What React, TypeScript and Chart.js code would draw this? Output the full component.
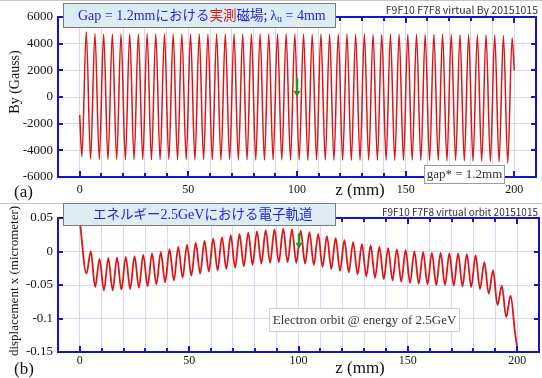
import React, { useEffect, useRef } from "react";
import { Chart, registerables } from "chart.js";

Chart.register(...registerables);

const SERIF = '"Liberation Serif", "Times New Roman", serif';
const GOTHIC = '"Noto Sans CJK JP", "Noto Sans", sans-serif';
const AXIS_BLUE = "#1414c8";
const GRID = "#d6d6f0";
const RED = "#dc1616";
const TITLE_BLUE = "#2424dc";
const ARROW_GREEN = "#1f9a1f";

// ---------- shared axis ----------
const Z_MIN = -10;
const Z_MAX = 210;
const Z_STEP = 10;
const Z_LABEL_STEP = 50;
const PERIOD = 4; // undulator period (mm)

// ---------- panel (a): By (Gauss) ----------
const BY_MIN = -6000;
const BY_MAX = 6000;
const BY_STEP = 2000;
const BY_START = { z: 0, v: -1350 };
const BY_END = { z: 200, v: 2000 };
const BY_TROUGH_Z0 = 1;
const BY_PEAK_Z0 = 3;
const byTroughs = [
  -4480, -4650, -4690, -4700, -4690, -4710, -4700, -4690, -4710, -4700,
  -4690, -4710, -4700, -4720, -4700, -4710, -4720, -4700, -4720, -4710,
  -4720, -4730, -4710, -4720, -4730, -4720, -4740, -4730, -4720, -4740,
  -4730, -4750, -4740, -4730, -4750, -4740, -4760, -4750, -4740, -4760,
  -4770, -4760, -4780, -4770, -4790, -4800, -4810, -4830, -4860, -4950,
];
const byPeaks = [
  4900, 4750, 4720, 4730, 4720, 4740, 4720, 4730, 4720, 4740,
  4720, 4730, 4720, 4740, 4710, 4730, 4720, 4730, 4710, 4730,
  4720, 4710, 4720, 4730, 4710, 4720, 4700, 4720, 4710, 4700,
  4710, 4700, 4720, 4700, 4690, 4710, 4700, 4690, 4700, 4680,
  4690, 4700, 4680, 4670, 4680, 4660, 4650, 4630, 4600, 4450,
];

// ---------- panel (b): orbit displacement ----------
const X_MIN = -0.15;
const X_MAX = 0.05;
const X_STEP = 0.05;
const ORBIT_START = { z: 0, v: 0.045 };
const ORBIT_TROUGH_Z0 = 3;
const ORBIT_PEAK_Z0 = 5;
const orbitTroughs = [
  -0.033, -0.053, -0.058, -0.058, -0.057, -0.056, -0.054, -0.052, -0.049, -0.046,
  -0.043, -0.039, -0.036, -0.033, -0.03, -0.028, -0.026, -0.024, -0.022, -0.02,
  -0.018, -0.017, -0.016, -0.016, -0.017, -0.018, -0.02, -0.023, -0.026, -0.029,
  -0.031, -0.034, -0.037, -0.039, -0.041, -0.043, -0.045, -0.047, -0.048, -0.049,
  -0.05, -0.05, -0.051, -0.052, -0.053, -0.056, -0.063, -0.08, -0.098,
];
const orbitPeaks = [
  0.0, -0.011, -0.01, -0.009, -0.008, -0.007, -0.005, -0.003, -0.001, 0.003,
  0.007, 0.01, 0.013, 0.016, 0.019, 0.021, 0.024, 0.026, 0.028, 0.03,
  0.032, 0.033, 0.034, 0.033, 0.031, 0.029, 0.026, 0.023, 0.02, 0.017,
  0.014, 0.011, 0.009, 0.007, 0.005, 0.003, 0.002, 0.0, -0.001, -0.002,
  -0.002, -0.003, -0.003, -0.004, -0.006, -0.016, -0.028, -0.051, -0.066,
];
const orbitTailZ = [199, 200];
const orbitTailV = [-0.12, -0.143];

function buildBy() {
  const pts = [{ x: BY_START.z, y: BY_START.v }];
  for (let k = 0; k < byPeaks.length; k++) {
    pts.push({ x: BY_TROUGH_Z0 + k * PERIOD, y: byTroughs[k] });
    pts.push({ x: BY_PEAK_Z0 + k * PERIOD, y: byPeaks[k] });
  }
  pts.push({ x: BY_END.z, y: BY_END.v });
  return pts;
}

function buildOrbit() {
  const pts = [{ x: ORBIT_START.z, y: ORBIT_START.v }];
  for (let k = 0; k < orbitPeaks.length; k++) {
    pts.push({ x: ORBIT_TROUGH_Z0 + k * PERIOD, y: orbitTroughs[k] });
    pts.push({ x: ORBIT_PEAK_Z0 + k * PERIOD, y: orbitPeaks[k] });
  }
  for (let i = 0; i < orbitTailZ.length; i++) pts.push({ x: orbitTailZ[i], y: orbitTailV[i] });
  return pts;
}

type Seg = { t: string; font: string; color: string; dy?: number };

function drawSegs(ctx: CanvasRenderingContext2D, x: number, baseline: number, segs: Seg[]) {
  ctx.textBaseline = "alphabetic";
  ctx.textAlign = "left";
  let cx = x;
  for (const s of segs) {
    ctx.font = s.font;
    ctx.fillStyle = s.color;
    ctx.fillText(s.t, cx, baseline + (s.dy || 0));
    cx += ctx.measureText(s.t).width;
  }
  return cx;
}

interface Decor {
  box: { x: number; y: number; w: number; h: number };
  titleX: number;
  titleBaseline: number;
  titleSegs: Seg[];
  tag: string;
  tagY: number;
  panelLabel: string;
  panelLabelY: number;
  zLabelY: number;
  yTitle: string;
  yTitleY: number;
  yTitleSize: number;
  note: { text: string; x: number; y: number; w: number; h: number; border: string; size: number };
  arrow: { z: number; from: number; to: number };
}

function decorPlugin(d: Decor) {
  return {
    id: "decor",
    afterDraw(chart: any) {
      const { ctx, chartArea: a, scales } = chart;
      const xs = scales.x;
      const ys = scales.y;
      ctx.save();
      // separator
      ctx.strokeStyle = "#c4c4c4";
      ctx.lineWidth = 1;
      ctx.beginPath();
      ctx.moveTo(0, 0.5);
      ctx.lineTo(chart.width, 0.5);
      ctx.stroke();

      // frame
      ctx.strokeStyle = AXIS_BLUE;
      ctx.lineWidth = 2;
      ctx.strokeRect(a.left, a.top, a.right - a.left, a.bottom - a.top);
      // inward ticks
      const seg = (x1: number, y1: number, x2: number, y2: number) => {
        ctx.beginPath();
        ctx.moveTo(x1, y1);
        ctx.lineTo(x2, y2);
        ctx.stroke();
      };
      for (let z = 0; z <= 200; z += Z_STEP) {
        const px = Math.round(xs.getPixelForValue(z));
        const len = z % Z_LABEL_STEP === 0 ? 6 : 4;
        seg(px, a.bottom, px, a.bottom - len);
        seg(px, a.top, px, a.top + len);
      }
      ys.ticks.forEach((t: any) => {
        const py = Math.round(ys.getPixelForValue(t.value));
        seg(a.left, py, a.left + 5, py);
        seg(a.right, py, a.right - 5, py);
      });

      // green arrow
      const ax = Math.round(xs.getPixelForValue(d.arrow.z));
      const ay1 = ys.getPixelForValue(d.arrow.from);
      const ay2 = ys.getPixelForValue(d.arrow.to);
      ctx.strokeStyle = ARROW_GREEN;
      ctx.fillStyle = ARROW_GREEN;
      ctx.lineWidth = 2.5;
      seg(ax, ay1, ax, ay2 - 5);
      ctx.beginPath();
      ctx.moveTo(ax - 3.5, ay2 - 6);
      ctx.lineTo(ax + 3.5, ay2 - 6);
      ctx.lineTo(ax, ay2);
      ctx.closePath();
      ctx.fill();

      // title box
      ctx.fillStyle = "#dbedf3";
      ctx.fillRect(d.box.x, d.box.y, d.box.w, d.box.h);
      ctx.strokeStyle = "#7a7a7a";
      ctx.lineWidth = 1;
      ctx.strokeRect(d.box.x + 0.5, d.box.y + 0.5, d.box.w, d.box.h);
      drawSegs(ctx, d.titleX, d.titleBaseline, d.titleSegs);

      // top-right tag
      ctx.font = `10.5px ${GOTHIC}`;
      ctx.fillStyle = "#333333";
      ctx.textAlign = "right";
      ctx.textBaseline = "middle";
      ctx.fillText(d.tag, 538, d.tagY, 156);

      // note box
      const n = d.note;
      ctx.fillStyle = "#ffffff";
      ctx.fillRect(n.x, n.y, n.w, n.h);
      ctx.strokeStyle = n.border;
      ctx.strokeRect(n.x + 0.5, n.y + 0.5, n.w, n.h);
      ctx.font = `${n.size}px ${SERIF}`;
      ctx.fillStyle = "#333333";
      ctx.textAlign = "center";
      ctx.textBaseline = "middle";
      ctx.fillText(n.text, n.x + n.w / 2 + 0.5, n.y + n.h / 2 + 1);

      // axis titles
      ctx.fillStyle = "#111111";
      ctx.font = `17px ${SERIF}`;
      ctx.textAlign = "center";
      ctx.textBaseline = "middle";
      ctx.fillText("z (mm)", 360, d.zLabelY);
      ctx.textAlign = "left";
      ctx.fillText(d.panelLabel, 14, d.panelLabelY);

      ctx.save();
      ctx.translate(15, d.yTitleY);
      ctx.rotate(-Math.PI / 2);
      ctx.font = `${d.yTitleSize}px ${SERIF}`;
      ctx.textAlign = "center";
      ctx.textBaseline = "middle";
      ctx.fillText(d.yTitle, 0, 0);
      ctx.restore();

      ctx.restore();
    },
  };
}

function makeConfig(opts: {
  data: { x: number; y: number }[];
  top: number;
  xAxisH: number;
  xPad: number;
  yMin: number;
  yMax: number;
  yStep: number;
  lineWidth: number;
  decor: Decor;
}) {
  return {
    type: "line",
    data: {
      datasets: [
        {
          data: opts.data,
          borderColor: RED,
          borderWidth: opts.lineWidth,
          pointRadius: 0,
          fill: false,
          cubicInterpolationMode: "monotone",
        },
      ],
    },
    options: {
      responsive: false,
      maintainAspectRatio: false,
      animation: false,
      events: [],
      parsing: false,
      layout: { padding: { top: opts.top, right: 3, left: 0, bottom: 0 } },
      plugins: { legend: { display: false }, tooltip: { enabled: false }, title: { display: false } },
      scales: {
        x: {
          type: "linear",
          min: Z_MIN,
          max: Z_MAX,
          afterFit: (s: any) => {
            s.height = opts.xAxisH;
          },
          ticks: {
            stepSize: Z_STEP,
            autoSkip: false,
            maxRotation: 0,
            padding: opts.xPad,
            color: "#111",
            font: { family: SERIF, size: 12 },
            callback: (v: number) => (v % Z_LABEL_STEP === 0 ? String(v) : ""),
          },
          grid: { color: GRID, lineWidth: 1, drawTicks: false },
          border: { display: false },
        },
        y: {
          type: "linear",
          min: opts.yMin,
          max: opts.yMax,
          afterFit: (s: any) => {
            s.width = 58;
          },
          ticks: {
            stepSize: opts.yStep,
            padding: 5,
            color: "#111",
            font: { family: SERIF, size: 13 },
            callback: (v: number) => String(parseFloat(Number(v).toFixed(3)) + 0),
          },
          grid: { color: GRID, lineWidth: 1, drawTicks: false },
          border: { display: false },
        },
      },
    },
    plugins: [decorPlugin(opts.decor)],
  };
}

const decorA: Decor = {
  box: { x: 63, y: 3, w: 272, h: 24 },
  titleX: 78,
  titleBaseline: 20,
  titleSegs: [
    { t: "Gap = 1.2mm", font: `14px ${SERIF}`, color: TITLE_BLUE },
    { t: "における", font: `13.5px ${GOTHIC}`, color: TITLE_BLUE },
    { t: "実測", font: `13.5px ${GOTHIC}`, color: RED },
    { t: "磁場; ", font: `13.5px ${GOTHIC}`, color: TITLE_BLUE },
    { t: "λ", font: `14px ${SERIF}`, color: TITLE_BLUE },
    { t: "u", font: `10px ${SERIF}`, color: TITLE_BLUE, dy: 2 },
    { t: " = 4mm", font: `14px ${SERIF}`, color: TITLE_BLUE },
  ],
  tag: "F9F10 F7F8 virtual By 20151015",
  tagY: 10,
  panelLabel: "(a)",
  panelLabelY: 193,
  zLabelY: 191,
  yTitle: "By (Gauss)",
  yTitleY: 82,
  yTitleSize: 14,
  note: { text: "gap* = 1.2mm", x: 424, y: 165, w: 80, h: 18, border: "#9a9a9a", size: 13 },
  arrow: { z: 100, from: 1400, to: 0 },
};

const decorB: Decor = {
  box: { x: 63, y: 0, w: 272, h: 22 },
  titleX: 93,
  titleBaseline: 16,
  titleSegs: [
    { t: "エネルギー", font: `13.5px ${GOTHIC}`, color: TITLE_BLUE },
    { t: "2.5GeV", font: `14px ${SERIF}`, color: TITLE_BLUE },
    { t: "における電子軌道", font: `13.5px ${GOTHIC}`, color: TITLE_BLUE },
  ],
  tag: "F9F10 F7F8 virtual orbit 20151015",
  tagY: 9,
  panelLabel: "(b)",
  panelLabelY: 167,
  zLabelY: 166,
  yTitle: "displacement x (micrometer)",
  yTitleY: 78,
  yTitleSize: 13,
  note: { text: "Electron orbit @ energy of 2.5GeV", x: 269, y: 105, w: 190, h: 23, border: "#cfcfcf", size: 13 },
  arrow: { z: 100, from: 0.027, to: 0.004 },
};

export default function App() {
  const refA = useRef<HTMLCanvasElement | null>(null);
  const refB = useRef<HTMLCanvasElement | null>(null);

  useEffect(() => {
    document.body.style.margin = "0";
    const a = new Chart(
      refA.current as HTMLCanvasElement,
      makeConfig({
        data: buildBy(),
        top: 17,
        xAxisH: 26,
        xPad: 6,
        yMin: BY_MIN,
        yMax: BY_MAX,
        yStep: BY_STEP,
        lineWidth: 1.5,
        decor: decorA,
      }) as any
    );
    const b = new Chart(
      refB.current as HTMLCanvasElement,
      makeConfig({
        data: buildOrbit(),
        top: 15,
        xAxisH: 26,
        xPad: 2,
        yMin: X_MIN,
        yMax: X_MAX,
        yStep: X_STEP,
        lineWidth: 1.8,
        decor: decorB,
      }) as any
    );
    return () => {
      a.destroy();
      b.destroy();
    };
  }, []);

  return (
    <div style={{ width: 542, height: 378, background: "#fff", position: "relative" }}>
      <canvas ref={refA} width={542} height={203} style={{ display: "block", width: 542, height: 203 }} />
      <canvas ref={refB} width={542} height={175} style={{ display: "block", width: 542, height: 175 }} />
    </div>
  );
}
